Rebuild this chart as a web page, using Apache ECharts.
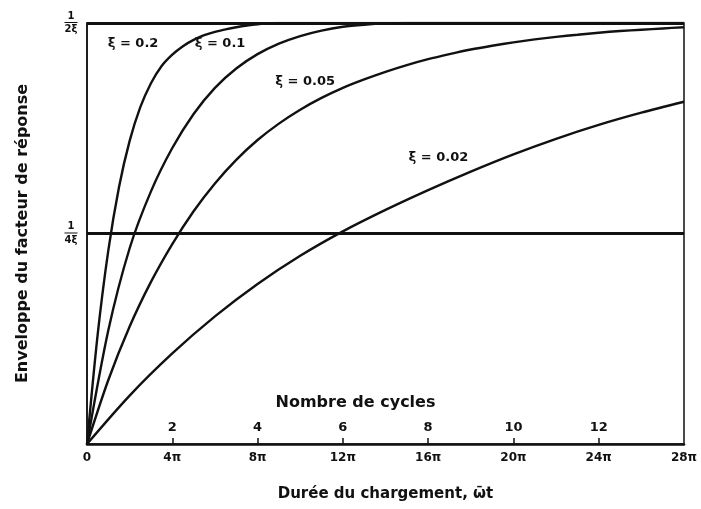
<!DOCTYPE html>
<html>
<head>
<meta charset="utf-8">
<script src="https://cdn.jsdelivr.net/npm/echarts@6/dist/echarts.min.js"></script>
<style>
  html, body { margin: 0; padding: 0; background: #fff; }
  #chart { width: 701px; height: 509px; }
</style>
</head>
<body>
<div id="chart"></div>
<script>
// x en multiples de pi (ωt / π), y en fraction de 1/(2ξ)
const xTicks = [0, 4, 8, 12, 16, 20, 24, 28];
const cycleTicks = [2, 4, 6, 8, 10, 12];
const refLevels = [0.5, 1];

const curve02 = [[0, 0], [0.5, 0.26], [1, 0.46], [1.5, 0.61], [2, 0.72], [2.5, 0.8], [3, 0.857],
  [3.5, 0.898], [4, 0.925], [4.5, 0.945], [5, 0.96], [5.5, 0.971], [6, 0.979], [6.5, 0.985], [7, 0.99],
  [7.5, 0.994], [8, 0.997], [8.5, 0.999], [9, 1], [28, 1]];
const curve01 = [[0, 0], [1, 0.27], [2, 0.465], [3, 0.6], [4, 0.703], [5, 0.784], [6, 0.846], [7, 0.892],
  [8, 0.926], [9, 0.951], [10, 0.969], [11, 0.982], [12, 0.991], [13, 0.996], [14, 0.999], [15, 1], [28, 1]];
const curve005 = [[0, 0], [1, 0.152], [2, 0.279], [3, 0.385], [4, 0.475], [5, 0.553], [6, 0.619], [7, 0.675],
  [8, 0.722], [9, 0.761], [10, 0.794], [11, 0.822], [12, 0.846], [13, 0.866], [14, 0.884], [15, 0.9],
  [16, 0.914], [17, 0.926], [18, 0.937], [19, 0.946], [20, 0.954], [21, 0.961], [22, 0.967], [23, 0.972],
  [24, 0.977], [25, 0.981], [26, 0.984], [27, 0.987], [28, 0.99]];
const curve002 = [[0, 0], [2, 0.115], [4, 0.215], [6, 0.303], [8, 0.38], [10, 0.447], [12, 0.505], [14, 0.556],
  [16, 0.603], [18, 0.647], [20, 0.688], [22, 0.725], [24, 0.758], [26, 0.787], [28, 0.813]];

const ink = '#111';
const font = 'DejaVu Sans';

const chart = echarts.init(document.getElementById('chart'));

function curve(name, data, labelAt) {
  return {
    type: 'line',
    name: name,
    data: data,
    symbol: 'none',
    smooth: 0.3,
    lineStyle: { color: ink, width: 2.4 },
    markPoint: {
      symbol: 'circle',
      symbolSize: 0,
      label: { show: true, formatter: 'ξ = ' + name, color: ink, fontFamily: font, fontWeight: 'bold', fontSize: 13 },
      data: [{ coord: labelAt }]
    }
  };
}

const series = [
  curve('0.2', curve02, [2.16, 0.95]),
  curve('0.1', curve01, [6.24, 0.95]),
  curve('0.05', curve005, [10.23, 0.86]),
  curve('0.02', curve002, [16.48, 0.68])
];
series[0].markLine = {
  silent: true,
  symbol: 'none',
  label: { show: false },
  lineStyle: { color: ink, width: 3, type: 'solid' },
  data: refLevels.map((v) => ({ yAxis: v }))
};

chart.setOption({
  animation: false,
  backgroundColor: '#fff',
  grid: { left: 87, right: 17, top: 23, bottom: 65, show: true, borderColor: ink, borderWidth: 1.5 },
  xAxis: [{
    type: 'value',
    min: 0, max: 28, interval: 4,
    splitLine: { show: false },
    axisLine: { lineStyle: { color: ink, width: 2.5 } },
    axisTick: { show: false },
    axisLabel: {
      color: ink, fontFamily: font, fontWeight: 'bold', fontSize: 12, margin: 8,
      formatter: (v) => (v === 0 ? '0' : v + 'π')
    },
    name: 'Durée du chargement, ω̄t',
    nameLocation: 'middle',
    nameGap: 43,
    nameTextStyle: { color: ink, fontFamily: font, fontWeight: 'bold', fontSize: 15 }
  }, {
    type: 'value',
    position: 'bottom',
    min: 0, max: 14,
    splitLine: { show: false },
    axisLine: { show: false },
    axisTick: { show: true, inside: true, length: 6, customValues: cycleTicks, lineStyle: { color: ink, width: 1.5 } },
    axisLabel: {
      inside: true, margin: 10, customValues: cycleTicks,
      color: ink, fontFamily: font, fontWeight: 'bold', fontSize: 13
    },
    name: 'Nombre de cycles',
    nameLocation: 'middle',
    nameGap: -49,
    nameTextStyle: { color: ink, fontFamily: font, fontWeight: 'bold', fontSize: 16, padding: [0, 60, 0, 0] }
  }],
  yAxis: {
    type: 'value',
    min: 0, max: 1, interval: 0.5,
    splitLine: { show: false },
    axisLine: { show: true, lineStyle: { color: ink, width: 1.5 } },
    axisTick: { show: false },
    axisLabel: {
      align: 'center',
      margin: 16,
      formatter: (v) => (v === 1 ? '{n|1}\n{b|}\n{d|2ξ}' : v === 0.5 ? '{n|1}\n{b|}\n{d|4ξ}' : ''),
      rich: {
        n: { fontFamily: font, fontWeight: 'bold', fontSize: 10, lineHeight: 10, color: ink, align: 'center' },
        b: { width: 13, height: 1, lineHeight: 3, backgroundColor: ink, align: 'center' },
        d: { fontFamily: font, fontWeight: 'bold', fontSize: 10, lineHeight: 11, color: ink, align: 'center' }
      }
    },
    name: 'Enveloppe du facteur de réponse',
    nameLocation: 'middle',
    nameGap: 56,
    nameTextStyle: { color: ink, fontFamily: font, fontWeight: 'bold', fontSize: 16 }
  },
  series: series
});
</script>
</body>
</html>
